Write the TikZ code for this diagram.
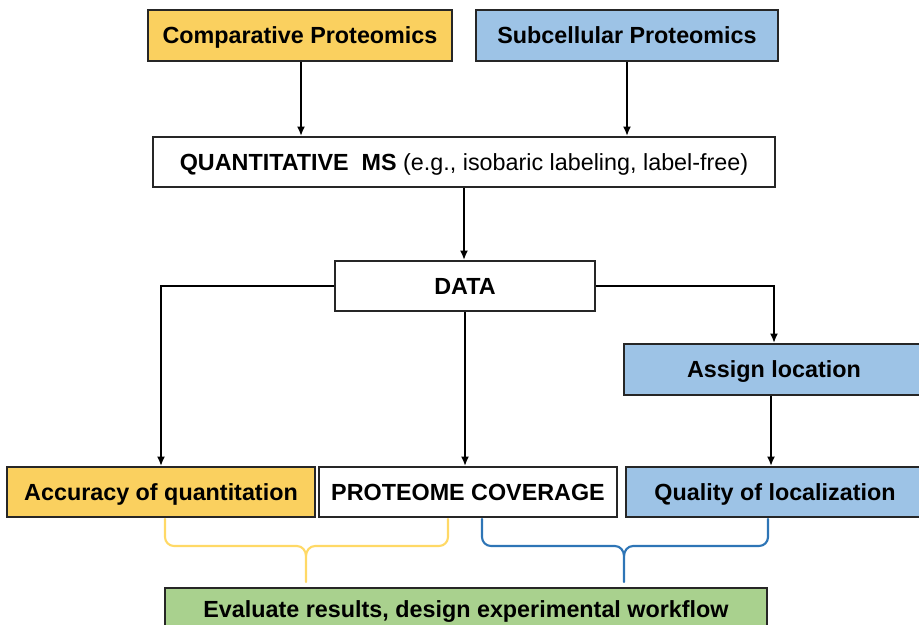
\documentclass[tikz,border=0pt]{standalone}
\usepackage{fontspec}
\setmainfont{Liberation Sans}
\usetikzlibrary{arrows.meta}
\definecolor{cyel}{RGB}{250,208,95}
\definecolor{cblu}{RGB}{157,195,230}
\definecolor{cgrn}{RGB}{169,209,142}
\definecolor{lyel}{RGB}{255,217,102}
\definecolor{lblu}{RGB}{46,117,182}
\begin{document}
\begin{tikzpicture}[x=0.75pt,y=-0.75pt,
  box/.style={draw=black!85,line width=1.5pt,inner sep=0pt,text height=12.5pt,text depth=0pt,
    font=\fontsize{17.5}{20}\selectfont\bfseries},
  arr/.style={draw=black,line width=1.6pt,-{Latex[length=7pt,width=6pt]}},
  brace/.style={line width=1.6pt,line cap=round}]
\useasboundingbox (0,0) rectangle (919,624);
\node[box,fill=cyel,minimum width=304*0.75pt,minimum height=51*0.75pt] (comp) at (300,35.5) {Comparative Proteomics};
\node[box,fill=cblu,minimum width=302*0.75pt,minimum height=51*0.75pt] (sub) at (627,35.5) {Subcellular Proteomics};
\node[box,fill=white,minimum width=622*0.75pt,minimum height=50*0.75pt] (qms) at (464,162) {QUANTITATIVE\ \ MS \mdseries(e.g., isobaric labeling, label-free)};
\node[box,fill=white,minimum width=260*0.75pt,minimum height=50*0.75pt] (data) at (465,286) {DATA};
\node[box,fill=cblu,minimum width=300*0.75pt,minimum height=51*0.75pt] (assign) at (774,369.5) {Assign location};
\node[box,fill=cyel,minimum width=308*0.75pt,minimum height=50*0.75pt] (acc) at (161,492) {Accuracy of quantitation};
\node[box,fill=white,minimum width=298*0.75pt,minimum height=50*0.75pt] (prot) at (468,492) {PROTEOME COVERAGE};
\node[box,fill=cblu,minimum width=298*0.75pt,minimum height=50*0.75pt] (qual) at (775,492) {Quality of localization};
\node[box,fill=cgrn,minimum width=602*0.75pt,minimum height=42*0.75pt] (eval) at (466,609) {Evaluate results, design experimental workflow};
\draw[arr] ([xshift=0.75pt]comp.south) -- ([xshift=0.75pt]comp.south |- qms.north);
\draw[arr] (sub.south) -- (sub.south |- qms.north);
\draw[arr] (qms.south) -- (qms.south |- data.north);
\draw[arr] (data.west) -| (acc.north);
\draw[arr] (data.south) -- (data.south |- prot.north);
\draw[arr] (data.east) -| (assign.north);
\draw[arr] ([xshift=-2.25pt]assign.south) -- ([xshift=-2.25pt]assign.south |- qual.north);
% braces
\draw[brace,lyel] (165,519) -- (165,537) to[out=-90,in=180] (174,546) -- (297,546) to[out=0,in=90] (306,556) -- (306,582);
\draw[brace,lyel] (448,519) -- (448,537) to[out=-90,in=0] (439,546) -- (315,546) to[out=180,in=90] (306,556);
\draw[brace,lblu] (482,519) -- (482,537) to[out=-90,in=180] (491,546) -- (615,546) to[out=0,in=90] (624,556) -- (624,582);
\draw[brace,lblu] (768,519) -- (768,537) to[out=-90,in=0] (759,546) -- (633,546) to[out=180,in=90] (624,556);
\end{tikzpicture}
\end{document}
